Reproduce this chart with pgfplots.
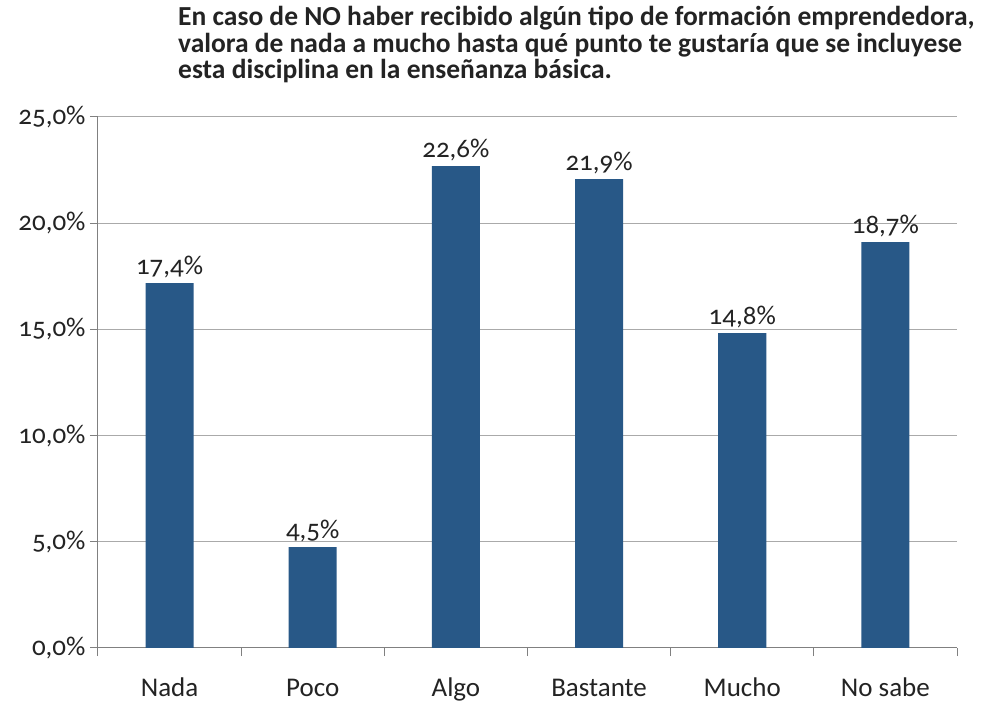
\documentclass[border=0pt]{standalone}
\usepackage{fontspec}
\setmainfont[Numbers=OldStyle]{Carlito}
\usepackage{pgfplots}
\pgfplotsset{compat=1.18}
\definecolor{barblue}{RGB}{40,88,135}
\definecolor{gridgray}{RGB}{170,170,170}
\definecolor{axisgray}{RGB}{128,128,128}
\definecolor{textdark}{RGB}{35,35,35}
\begin{document}
\begin{tikzpicture}[x=1pt,y=1pt]
\useasboundingbox (-98,-59) rectangle (888,648);
\begin{axis}[
  at={(0,0)}, anchor=south west,
  scale only axis, width=859pt, height=531pt,
  xmin=-0.5, xmax=5.5, ymin=0, ymax=25,
  ybar, bar width=48pt,
  axis x line*=bottom, axis y line*=left,
  axis line style={draw=axisgray, line width=1pt},
  tick align=outside, major tick length=8pt,
  tick style={draw=axisgray, line width=1pt},
  xtick={-0.5,0.5,...,5.5},
  xticklabels={Nada,Poco,Algo,Bastante,Mucho,No sabe,{}},
  xticklabel style={xshift=71.58pt, yshift=-18pt, text height=19pt, text depth=6pt, text=textdark, font=\fontsize{27}{30}\selectfont},
  ytick={0,5,10,15,20,25},
  yticklabels={{0,0\%},{5,0\%},{10,0\%},{15,0\%},{20,0\%},{25,0\%}},
  yticklabel style={text=textdark, font=\fontsize{27}{30}\selectfont, xshift=-1pt},
  ymajorgrids, grid style={draw=gridgray, line width=1pt},
  point meta=explicit symbolic,
  nodes near coords={\pgfplotspointmeta\%},
  nodes near coords style={text=textdark, font=\fontsize{27}{30}\selectfont, anchor=south, yshift=2pt},
  clip=false,
]
\addplot[fill=barblue, draw=none, bar shift=0pt] table[x=x, y=y, meta=lab] {
x y lab
0 17.18 17,4
1 4.75 4,5
2 22.69 22,6
3 22.08 21,9
4 14.83 14,8
5 19.11 18,7
};
\end{axis}
\node[anchor=north west, align=left, inner sep=0pt, text=textdark, font=\bfseries\fontsize{27.5}{26.5}\selectfont] at (80,642) {En caso de NO haber recibido algún tipo de formación emprendedora,\\valora de nada a mucho hasta qué punto te gustaría que se incluyese\\esta disciplina en la enseñanza básica.};
\end{tikzpicture}
\end{document}
